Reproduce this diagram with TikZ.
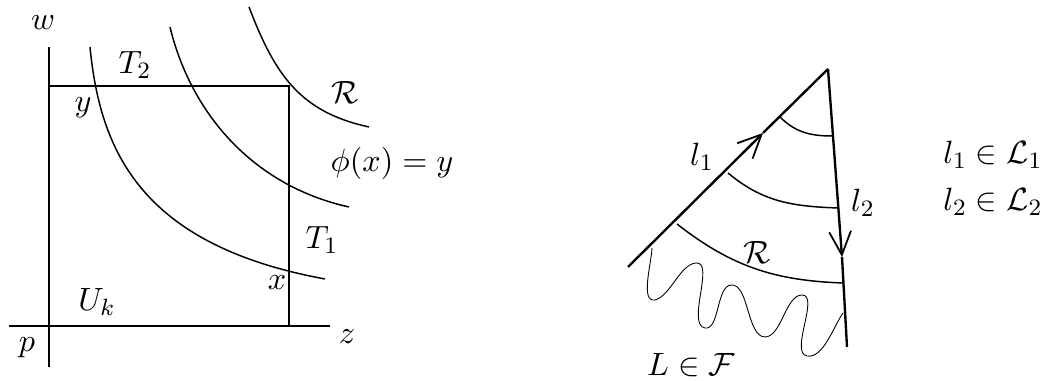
\documentclass[tikz,border=0pt]{standalone}
\usepackage{amsmath,amssymb}
\usepackage{tikz}
\usetikzlibrary{arrows.meta}

\begin{document}
\begin{tikzpicture}[
  x=0.34pt, y=-0.34pt,
  every node/.style={inner sep=0pt, font=\fontsize{11}{13}\selectfont},
  axis/.style={line width=0.5pt},
  level/.style={line width=0.5pt},
  ray/.style={line width=0.8pt},
  wave/.style={line width=0.3pt, looseness=0.75},
  barb/.style={-{Straight Barb[length=2.8mm,width=2.6mm,line width=0.6pt]}},
]
  \useasboundingbox (0,0) rectangle (1047,381);

  % Left: the box U_k
  \coordinate (p) at (49,326);
  \coordinate (wtop) at (49,47);
  \coordinate (wbot) at (49,367);
  \coordinate (zl) at (9,326);
  \coordinate (zr) at (330,326);
  \coordinate (tl) at (49,86);
  \coordinate (tr) at (289,86);
  \coordinate (br) at (289,326);
  \draw[axis] (wbot) -- (wtop);
  \draw[axis] (zl) -- (zr);
  \draw[axis] (tl) -- (tr) -- (br);

  \draw[level] (90,47) .. controls (100,150) and (140,245) .. (325,279);
  \draw[level] (170,27) .. controls (190,110) and (250,185) .. (349,207);
  \draw[level] (249,7) .. controls (275,75) and (300,112) .. (369,127);

  \node (wlab) at (43,23) {$w$};
  \node (plab) at (27,348) {$p$};
  \node (zlab) at (347,337) {$z$};
  \node (ttwo) at (135,65) {$T_2$};
  \node (ylab) at (83,108) {$y$};
  \node (rlab) at (345,93) {$\mathcal{R}$};
  \node (phi) at (392,163) {$\phi(x)=y$};
  \node (tone) at (322,240) {$T_1$};
  \node (xlab) at (277,283) {$x$};
  \node (uk) at (97,302) {$U_k$};

  % Right: the wedge between l_1 and l_2
  \coordinate (apex) at (828,69);
  \coordinate (lone) at (628,267);
  \coordinate (ltwo) at (847,347);
  \coordinate (mone) at (763,133);
  \coordinate (mtwo) at (842,257);
  \draw[ray, barb] (lone) -- (mone);
  \draw[ray] (mone) -- (apex);
  \draw[ray, barb] (apex) -- (mtwo);
  \draw[ray] (mtwo) -- (ltwo);

  \draw[level] (780,117) to[out=-45,in=180] (832,136);
  \draw[level] (728,173) to[out=-40,in=178] (838,208);
  \draw[level] (677,224) to[out=-38,in=178] (843,283);

  \draw[wave] (652,248) to[out=-92,in=190] (655,300) to[out=15,in=185] (696,263)
     to[out=5,in=170] (705,328) to[out=-10,in=185] (731,285) to[out=5,in=180] (765,337)
     to[out=0,in=180] (802,295) to[out=0,in=170] (807,356) to[out=-10,in=235] (843,313);

  \node (lonelab) at (702,157) {$l_1$};
  \node (ltwolab) at (863,203) {$l_2$};
  \node (rrlab) at (757,253) {$\mathcal{R}$};
  \node (llab) at (691,365) {$L\in\mathcal{F}$};
  \node (lonein) at (993,155) {$l_1\in\mathcal{L}_1$};
  \node (ltwoin) at (993,202) {$l_2\in\mathcal{L}_2$};
\end{tikzpicture}
\end{document}
